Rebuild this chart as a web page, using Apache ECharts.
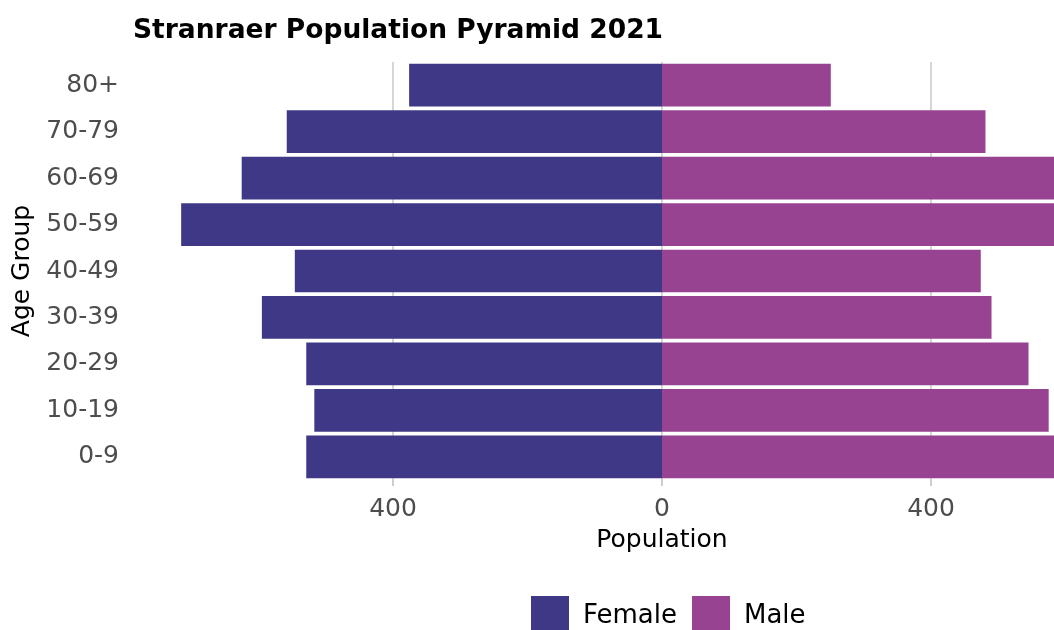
<!DOCTYPE html>
<html>
<head>
<meta charset="utf-8">
<script src="https://cdn.jsdelivr.net/npm/echarts@6/dist/echarts.min.js"></script>
<style>
  html, body { margin: 0; padding: 0; background: #ffffff; }
  #chart { width: 1054px; height: 630px; }
</style>
</head>
<body>
<div id="chart"></div>
<script>
const categories = ['0-9', '10-19', '20-29', '30-39', '40-49', '50-59', '60-69', '70-79', '80+'];
const femaleValues = [529, 517, 529, 595, 546, 715, 625, 558, 376];
const maleValues = [600, 575, 545, 490, 474, 640, 610, 481, 251];
const tickValues = [-400, 0, 400];

const FONT = 'DejaVu Sans';
const chart = echarts.init(document.getElementById('chart'), null, { renderer: 'canvas' });

chart.setOption({
  animation: false,
  backgroundColor: '#ffffff',
  title: {
    text: 'Stranraer Population Pyramid 2021',
    left: 128,
    top: 13,
    textStyle: { fontFamily: FONT, fontWeight: 'bold', fontSize: 26.5, color: '#000000' }
  },
  legend: {
    data: ['Female', 'Male'],
    left: 526,
    top: 591,
    icon: 'rect',
    itemWidth: 38,
    itemHeight: 40,
    itemGap: 15,
    textStyle: { fontFamily: FONT, fontSize: 26, color: '#000000', padding: [0, 0, 0, 9] }
  },
  grid: {
    left: 124,
    width: 1076,
    top: 62,
    height: 418,
    containLabel: false,
    outerBoundsMode: 'none'
  },
  xAxis: {
    type: 'value',
    min: -800,
    max: 800,
    name: 'Population',
    nameLocation: 'middle',
    nameGap: 48,
    nameTextStyle: { fontFamily: FONT, fontSize: 25, color: '#000000' },
    axisLine: { show: false },
    axisTick: { show: true, length: 6, customValues: tickValues, lineStyle: { color: '#bdbdbd', width: 1.5 } },
    axisLabel: {
      customValues: tickValues,
      margin: 17,
      fontFamily: FONT,
      fontSize: 25,
      color: '#4d4d4d',
      formatter: v => String(Math.abs(v))
    },
    splitLine: { show: true, lineStyle: { color: '#c8c8c8', width: 1.5 } }
  },
  yAxis: {
    type: 'category',
    data: categories,
    name: 'Age Group',
    nameLocation: 'middle',
    nameGap: 89,
    nameRotate: 90,
    nameTextStyle: { fontFamily: FONT, fontSize: 25, color: '#000000' },
    axisLine: { show: false },
    axisTick: { show: false },
    axisLabel: { margin: 5, fontFamily: FONT, fontSize: 25, color: '#4d4d4d' },
    splitLine: { show: false }
  },
  series: [
    {
      name: 'Female',
      type: 'bar',
      stack: 'pop',
      barCategoryGap: '8%',
      itemStyle: { color: '#3f3886' },
      data: femaleValues.map(v => -v)
    },
    {
      name: 'Male',
      type: 'bar',
      stack: 'pop',
      barCategoryGap: '8%',
      itemStyle: { color: '#984391' },
      data: maleValues
    }
  ]
});
</script>
</body>
</html>
